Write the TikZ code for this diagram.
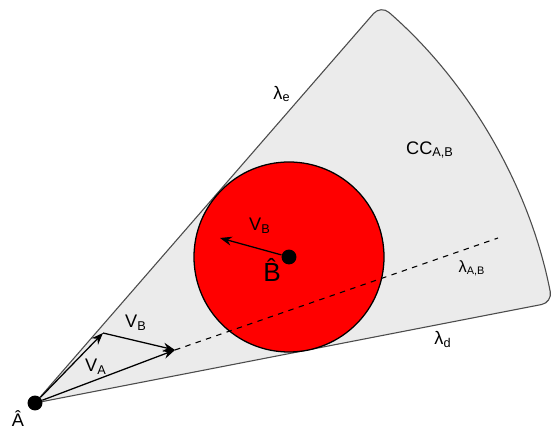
\documentclass[tikz,border=0pt]{standalone}
\usepackage{fontspec}
\setmainfont{Liberation Sans}
\usetikzlibrary{arrows.meta}

\begin{document}
\begin{tikzpicture}[x=0.55pt,y=0.55pt,>={Stealth[length=6.5pt,width=5pt]},
  dot/.style={circle,fill=black,inner sep=0pt,minimum size=8.2pt},
  lbl/.style={inner sep=0pt},
  vel/.style={->,line width=0.7pt}]

  % Frame: same proportions as the original
  \useasboundingbox (0,0) rectangle (554,437);

  % --- Collision cone, apex at A, bounded by lambda_e and lambda_d ---
  \def\ax{35} \def\ay{34}
  \def\rcone{527}
  \filldraw[fill=black!8,draw=black!70,line width=0.6pt]
    (\ax,\ay) [rounded corners=6pt] -- ++(49:\rcone)
    arc[start angle=49,end angle=11,radius=\rcone] [sharp corners] -- cycle;

  % --- Obstacle disc around B ---
  \filldraw[fill=red,draw=black,line width=0.7pt] (289,180) circle (95);

  % --- Points and arrow end points ---
  \node[dot] (A) at (\ax,\ay) {};
  \node[dot] (B) at (289,180) {};
  \coordinate (vaTip) at (175,87);
  \coordinate (edgeTip) at (103,104);
  \coordinate (vbTip) at (220,199);
  \coordinate (lamEnd) at (498,199);

  % --- Velocity triangle at A ---
  \draw[vel] (A) -- (edgeTip);
  \draw[vel] (edgeTip) -- (vaTip);
  \draw[vel] (A) -- (vaTip);
  \draw[dashed,line width=0.6pt] (vaTip) -- (lamEnd);

  % --- Velocity of B ---
  \draw[vel] (B) -- (vbTip);

  % Labels
  \node[lbl] (lamE) at (282,343) {λ\textsubscript{e}};
  \node[lbl] (lamD) at (443,98) {λ\textsubscript{d}};
  \node[lbl] (lamAB) at (472,169) {\small λ\textsubscript{A,B}};
  \node[lbl] (cone) at (430,287) {CC\textsubscript{A,B}};
  \node[lbl] (vbA) at (136,114) {V\textsubscript{B}};
  \node[lbl] (vaA) at (96,70) {V\textsubscript{A}};
  \node[lbl] (vbB) at (260,211) {V\textsubscript{B}};
  \node[lbl] (labA) at (18,18) {Â};
  \node[lbl,font=\Large] (labB) at (272,167) {B̂};

\end{tikzpicture}
\end{document}
